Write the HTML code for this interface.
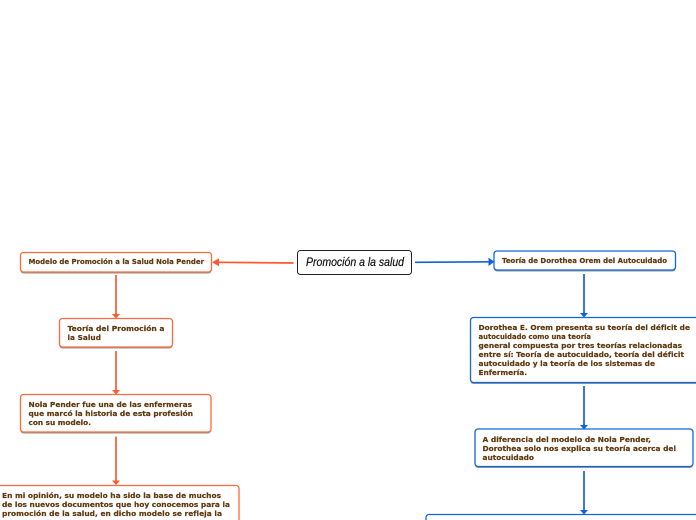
<!DOCTYPE html>
<html lang="es">
<head>
<meta charset="utf-8">
<style>
html,body{margin:0;padding:0;background:#fff;width:696px;height:520px;overflow:hidden}
svg{display:block;width:696px;height:520px;overflow:hidden;filter:blur(.3px)}
.t{font-family:"DejaVu Sans",sans-serif;font-weight:bold;font-size:7.3px;fill:#5f3a10;stroke:#5f3a10;stroke-width:.2}
.o{fill:#fff;stroke:#ff6a3a;stroke-width:1.3}
.b{fill:#fff;stroke:#1266e0;stroke-width:1.3}
.s{fill:#666;opacity:.7}
</style>
</head>
<body>
<svg width="696" height="520" viewBox="0 0 696 520" xmlns="http://www.w3.org/2000/svg">
<!-- connectors orange -->
<g stroke="#ff5a2c" stroke-width="1.7" fill="none">
<path d="M293.500 263L216 262.300"/>
<path d="M116 275V315"/>
<path d="M116 351V391"/>
<path d="M116 436.500V482"/>
</g>
<g fill="#ff5a2c">
<path d="M212 262.300l7-4v8z"/>
<path d="M112 314h8l-4 4.500z"/>
<path d="M112 390h8l-4 4.500z"/>
<path d="M112 480.500h8l-4 4.500z"/>
</g>
<!-- connectors blue -->
<g stroke="#0f63dc" stroke-width="1.7" fill="none">
<path d="M415 262.300L491 261.800"/>
<path d="M584 274V314"/>
<path d="M584 386V426"/>
<path d="M584 471V511"/>
</g>
<g fill="#0f63dc">
<path d="M494.500 261.800l-6-4.200v8.400z"/>
<path d="M580 313h8l-4 4.500z"/>
<path d="M580 425h8l-4 4.500z"/>
<path d="M580 510h8l-4 4.500z"/>
</g>
<!-- orange nodes -->
<rect class="s" x="20.500" y="254" width="191" height="19.500" rx="3"/>
<rect class="o" x="20.500" y="252.500" width="191" height="19.500" rx="3"/>
<rect class="s" x="59.500" y="320" width="113" height="28.500" rx="3"/>
<rect class="o" x="59.500" y="318.500" width="113" height="28.500" rx="3"/>
<rect class="s" x="20.500" y="396" width="190.500" height="37.500" rx="3"/>
<rect class="o" x="20.500" y="394.500" width="190.500" height="37.500" rx="3"/>
<path class="o" d="M-2 485.500H236a3 3 0 0 1 3 3V522H-2z"/>
<!-- central -->
<rect x="297.500" y="250.500" width="114" height="24" rx="3" fill="#fff" stroke="#222" stroke-width="1"/>
<text x="306" y="266" textLength="98" lengthAdjust="spacingAndGlyphs" font-family="'Liberation Sans',sans-serif" font-style="italic" font-size="11.500" fill="#111" stroke="#111" stroke-width=".2">Promoción a la salud</text>
<!-- blue nodes -->
<rect class="s" x="494" y="252.500" width="181.500" height="19" rx="3"/>
<rect class="b" x="494" y="251" width="181.500" height="19" rx="3"/>
<path class="s" d="M473.500 319H698V384H473.500a3 3 0 0 1-3-3z"/>
<path class="b" d="M698 317.500H473.500a3 3 0 0 0-3 3V379.500a3 3 0 0 0 3 3H698z"/>
<rect class="s" x="475" y="430.500" width="218" height="37.500" rx="3"/>
<rect class="b" x="475" y="429" width="218" height="37.500" rx="3"/>
<path class="b" d="M698 514.500H429a3 3 0 0 0-3 3V522H698z"/>
<!-- text -->
<text class="t" x="28.500" y="264" textLength="175.500" lengthAdjust="spacingAndGlyphs">Modelo de Promoción a la Salud Nola Pender</text>
<text class="t" x="67.500" y="331" textLength="97" lengthAdjust="spacingAndGlyphs">Teoría del Promoción a</text>
<text class="t" x="67.500" y="340" textLength="33.500" lengthAdjust="spacingAndGlyphs">la Salud</text>
<text class="t" x="28.500" y="407" textLength="163.500" lengthAdjust="spacingAndGlyphs">Nola Pender fue una de las enfermeras</text>
<text class="t" x="28.500" y="416" textLength="164.500" lengthAdjust="spacingAndGlyphs">que marcó la historia de esta profesión</text>
<text class="t" x="28.500" y="425" textLength="62.500" lengthAdjust="spacingAndGlyphs">con su modelo.</text>
<text class="t" x="2" y="498" textLength="219" lengthAdjust="spacingAndGlyphs">En mi opinión, su modelo ha sido la base de muchos</text>
<text class="t" x="2" y="507" textLength="228" lengthAdjust="spacingAndGlyphs">de los nuevos documentos que hoy conocemos para la</text>
<text class="t" x="2" y="516" textLength="220" lengthAdjust="spacingAndGlyphs">promoción de la salud, en dicho modelo se refleja la</text>
<text class="t" x="502" y="263" textLength="165" lengthAdjust="spacingAndGlyphs">Teoría de Dorothea Orem del Autocuidado</text>
<text class="t" x="478.500" y="330" textLength="211.500" lengthAdjust="spacingAndGlyphs">Dorothea E. Orem presenta su teoría del déficit de</text>
<text class="t" x="478.500" y="339" textLength="112.500" lengthAdjust="spacingAndGlyphs">autocuidado como una teoría</text>
<text class="t" x="478.500" y="348" textLength="203.500" lengthAdjust="spacingAndGlyphs">general compuesta por tres teorías relacionadas</text>
<text class="t" x="478.500" y="357" textLength="205.500" lengthAdjust="spacingAndGlyphs">entre sí: Teoría de autocuidado, teoría del déficit</text>
<text class="t" x="478.500" y="366" textLength="176.500" lengthAdjust="spacingAndGlyphs">autocuidado y la teoría de los sistemas de</text>
<text class="t" x="478.500" y="375" textLength="48.500" lengthAdjust="spacingAndGlyphs">Enfermería.</text>
<text class="t" x="482.500" y="442" textLength="168.500" lengthAdjust="spacingAndGlyphs">A diferencia del modelo de Nola Pender,</text>
<text class="t" x="482.500" y="451" textLength="193.500" lengthAdjust="spacingAndGlyphs">Dorothea solo nos explica su teoría acerca del</text>
<text class="t" x="482.500" y="460" textLength="51.500" lengthAdjust="spacingAndGlyphs">autocuidado</text>
</svg>
</body>
</html>
